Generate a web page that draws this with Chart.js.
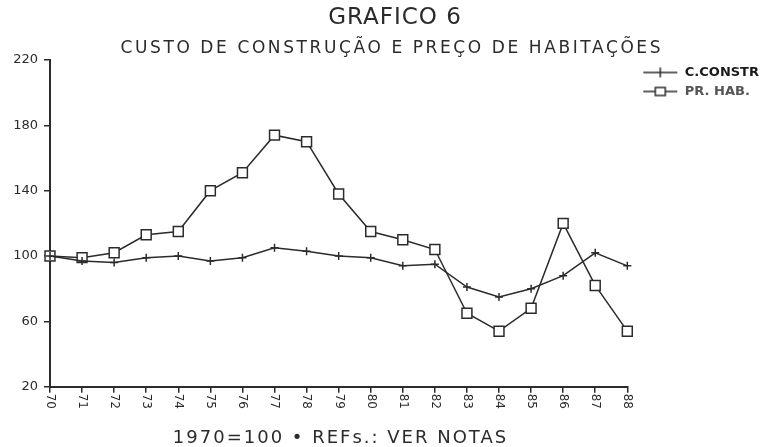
<!DOCTYPE html>
<html>
<head>
<meta charset="utf-8">
<script src="https://cdn.jsdelivr.net/npm/chart.js@4"></script>
<style>
    html, body { margin: 0; padding: 0; background: #fff; }
    #wrap { width: 769px; height: 447px; }
</style>
</head>
<body>
<div id="wrap"><canvas id="grafico"></canvas></div>
<script>
// Data (1970 = 100)
const years = ['70', '71', '72', '73', '74', '75', '76', '77', '78', '79', '80', '81', '82', '83', '84', '85', '86', '87', '88'];
const custoConstrucao = [100, 97, 96, 99, 100, 97, 99, 105, 103, 100, 99, 94, 95, 81, 75, 80, 88, 102, 94];
const precoHabitacao = [100, 99, 102, 113, 115, 140, 151, 174, 170, 138, 115, 110, 104, 65, 54, 68, 120, 82, 54];
const yTicks = [20, 60, 100, 140, 180, 220];

const titulo = 'GRAFICO 6';
const subtitulo = 'CUSTO DE CONSTRUÇÃO E PREÇO DE HABITAÇÕES';
const notaEixo = '1970=100 • REFs.: VER NOTAS';

const ink = '#2b2b2b';

// line+marker swatch for the legend (left margin keeps it away from the plot)
function swatch(kind) {
    const c = document.createElement('canvas');
    c.width = 45;
    c.height = 12;
    const g = c.getContext('2d');
    g.strokeStyle = ink;
    g.lineWidth = 1.5;
    g.beginPath();
    g.moveTo(10, 6);
    g.lineTo(44, 6);
    g.stroke();
    if (kind === 'cross') {
        g.beginPath();
        g.moveTo(27, 1);
        g.lineTo(27, 11);
        g.stroke();
    } else {
        g.fillStyle = '#fff';
        g.fillRect(22, 2, 10, 8);
        g.strokeRect(22, 2, 10, 8);
    }
    return c;
}

// centred text with extra letter spacing (the original uses a wide plotter font)
function spacedText(ctx, text, cx, cy, font, spacing) {
    ctx.save();
    ctx.font = font;
    ctx.letterSpacing = spacing + 'px';
    ctx.fillStyle = ink;
    ctx.textAlign = 'left';
    ctx.textBaseline = 'middle';
    const w = ctx.measureText(text).width - spacing;
    ctx.fillText(text, cx - w / 2, cy);
    ctx.restore();
}

// titles, x-axis note and clockwise tick labels
const decor = {
    id: 'decor',
    afterDraw(chart) {
        const ctx = chart.ctx;
        const xs = chart.scales.x;
        const cx = chart.width / 2 + 10;
        spacedText(ctx, titulo, cx, 18, '23px "DejaVu Sans"', 1);
        spacedText(ctx, subtitulo, cx - 4, 49, '17px "DejaVu Sans"', 2.6);
        spacedText(ctx, notaEixo, cx - 55, 438, '18px "DejaVu Sans"', 2);

        ctx.save();
        ctx.fillStyle = ink;
        ctx.font = '12px "DejaVu Sans"';
        ctx.textAlign = 'left';
        ctx.textBaseline = 'middle';
        xs.ticks.forEach((t, i) => {
            const x = xs.getPixelForTick(i);
            ctx.save();
            ctx.translate(x, xs.top + 7);
            ctx.rotate(Math.PI / 2);
            ctx.fillText(years[i], 0, 0);
            ctx.restore();
        });
        ctx.restore();
    }
};

const ctx = document.getElementById('grafico').getContext('2d');
const chart = new Chart(ctx, {
    type: 'line',
    data: {
        labels: years,
        datasets: [{
            label: 'C.CONSTR',
            data: custoConstrucao,
            borderColor: ink,
            borderWidth: 1.5,
            pointStyle: 'cross',
            pointRadius: 4,
            pointBorderColor: ink,
            pointBorderWidth: 1.5,
            tension: 0
        }, {
            label: 'PR. HAB.',
            data: precoHabitacao,
            borderColor: ink,
            borderWidth: 1.5,
            pointStyle: 'rect',
            pointRadius: 7,
            pointBackgroundColor: '#fff',
            pointBorderColor: ink,
            pointBorderWidth: 1.5,
            tension: 0
        }]
    },
    plugins: [decor],
    options: {
        responsive: true,
        maintainAspectRatio: false,
        animation: false,
        events: [],
        layout: {
            padding: { left: 0, right: 0, top: 60, bottom: 33 }
        },
        plugins: {
            title: { display: false },
            subtitle: { display: false },
            legend: {
                position: 'right',
                align: 'start',
                labels: {
                    usePointStyle: true,
                    pointStyleWidth: 45,
                    padding: 6,
                    color: ink,
                    font: { family: 'DejaVu Sans', size: 13, weight: 'bold' },
                    generateLabels: (ch) => ch.data.datasets.map((ds, i) => ({
                        text: ds.label,
                        datasetIndex: i,
                        pointStyle: swatch(i === 0 ? 'cross' : 'rect'),
                        fontColor: i === 0 ? '#1a1a1a' : '#555',
                        lineWidth: 0,
                        strokeStyle: 'transparent',
                        fillStyle: 'transparent'
                    }))
                }
            },
            tooltip: { enabled: false }
        },
        scales: {
            x: {
                offset: false,
                grid: {
                    drawOnChartArea: false,
                    drawTicks: true,
                    tickLength: 6,
                    color: ink,
                    lineWidth: 1.5
                },
                border: { display: true, color: ink, width: 2 },
                ticks: {
                    color: 'rgba(0,0,0,0)',
                    minRotation: 90,
                    maxRotation: 90,
                    autoSkip: false,
                    font: { family: 'DejaVu Sans', size: 12 }
                }
            },
            y: {
                min: 20,
                max: 220,
                afterFit: (s) => { s.width = 50; },
                afterBuildTicks: (s) => { s.ticks = yTicks.map(v => ({ value: v })); },
                grid: {
                    drawOnChartArea: false,
                    drawTicks: true,
                    tickLength: 6,
                    color: ink,
                    lineWidth: 1.5
                },
                border: { display: true, color: ink, width: 2 },
                ticks: {
                    color: ink,
                    padding: 6,
                    font: { family: 'DejaVu Sans', size: 13 }
                }
            }
        }
    }
});
</script>
</body>
</html>
